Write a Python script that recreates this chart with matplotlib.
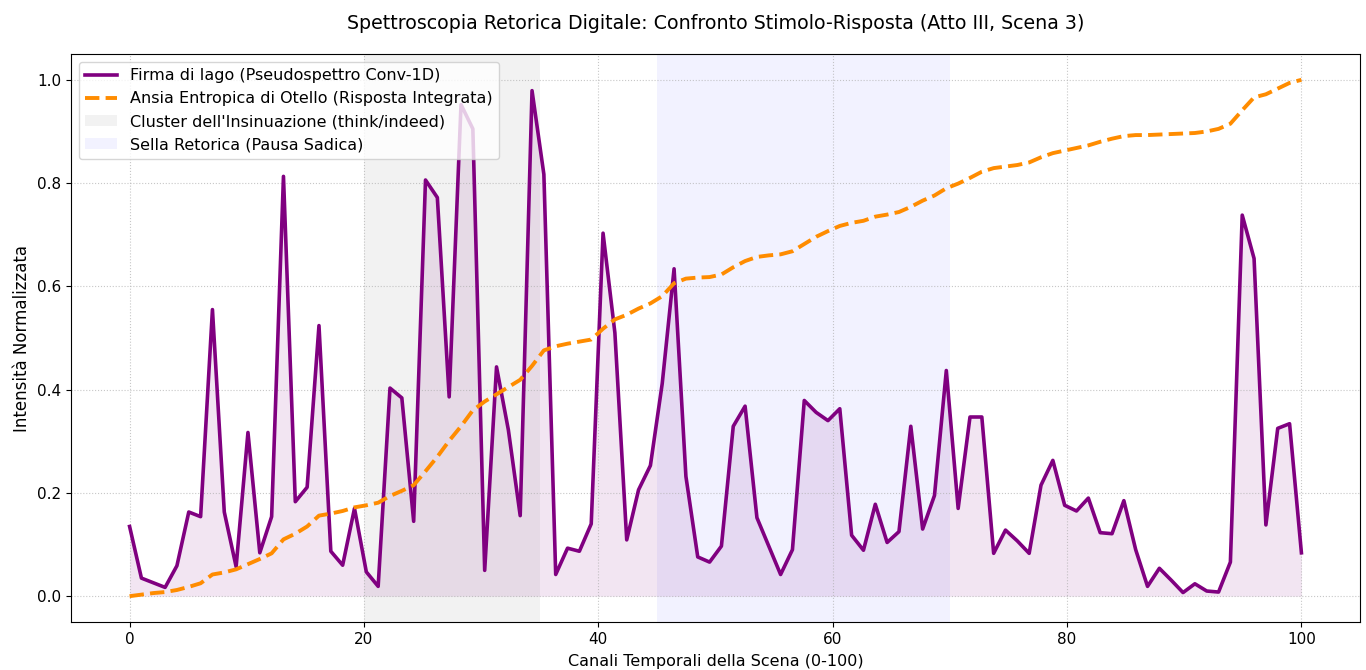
import numpy as np
import matplotlib
matplotlib.use("Agg")
import matplotlib.pyplot as plt

# Data
channels = np.linspace(0, 100, 100)

iago_signature = [
    0.135, 0.035, 0.026, 0.017, 0.059, 0.163, 0.154, 0.555, 0.163, 0.057,
    0.317, 0.084, 0.154, 0.813, 0.183, 0.211, 0.524, 0.087, 0.060, 0.170,
    0.047, 0.019, 0.403, 0.384, 0.145, 0.806, 0.772, 0.386, 0.952, 0.905,
    0.050, 0.444, 0.322, 0.156, 0.979, 0.817, 0.042, 0.093, 0.087, 0.140,
    0.703, 0.510, 0.109, 0.206, 0.253, 0.412, 0.634, 0.232, 0.076, 0.066,
    0.097, 0.329, 0.368, 0.152, 0.097, 0.042, 0.090, 0.379, 0.356, 0.340,
    0.363, 0.118, 0.089, 0.178, 0.104, 0.125, 0.329, 0.130, 0.195, 0.437,
    0.170, 0.347, 0.347, 0.083, 0.128, 0.107, 0.083, 0.215, 0.263, 0.176,
    0.165, 0.190, 0.123, 0.121, 0.185, 0.090, 0.019, 0.054, 0.031, 0.007,
    0.024, 0.010, 0.008, 0.066, 0.738, 0.654, 0.138, 0.325, 0.334, 0.084,
]

othello_anxiety = [
    0.000, 0.003, 0.006, 0.008, 0.012, 0.018, 0.025, 0.042, 0.046, 0.052,
    0.062, 0.072, 0.083, 0.110, 0.121, 0.135, 0.156, 0.160, 0.165, 0.172,
    0.176, 0.181, 0.194, 0.204, 0.215, 0.242, 0.270, 0.301, 0.329, 0.360,
    0.377, 0.391, 0.405, 0.419, 0.446, 0.476, 0.484, 0.489, 0.493, 0.497,
    0.518, 0.536, 0.545, 0.557, 0.567, 0.581, 0.606, 0.615, 0.617, 0.618,
    0.623, 0.637, 0.649, 0.657, 0.660, 0.662, 0.668, 0.682, 0.696, 0.707,
    0.717, 0.723, 0.727, 0.735, 0.739, 0.744, 0.754, 0.766, 0.776, 0.790,
    0.799, 0.810, 0.822, 0.829, 0.832, 0.835, 0.840, 0.850, 0.858, 0.863,
    0.868, 0.873, 0.880, 0.886, 0.891, 0.893, 0.893, 0.894, 0.895, 0.896,
    0.897, 0.900, 0.905, 0.915, 0.941, 0.966, 0.972, 0.983, 0.994, 1.000,
]

cluster_range = (20, 35)
saddle_range = (45, 70)

labels = {
    "iago": "Firma di Iago (Pseudospettro Conv-1D)",
    "othello": "Ansia Entropica di Otello (Risposta Integrata)",
    "cluster": "Cluster dell'Insinuazione (think/indeed)",
    "saddle": "Sella Retorica (Pausa Sadica)",
}

title = "Spettroscopia Retorica Digitale: Confronto Stimolo-Risposta (Atto III, Scena 3)"
xlabel = "Canali Temporali della Scena (0-100)"
ylabel = "Intensità Normalizzata"

fig = plt.figure(figsize=(13.66, 6.70), dpi=100)
ax = fig.add_axes([71 / 1366, 1 - 622 / 670, (1360 - 71) / 1366, (622 - 54) / 670])

ax.plot(channels, iago_signature, color="purple", linewidth=2.6, label=labels["iago"], zorder=3)
ax.fill_between(channels, iago_signature, 0, color="purple", alpha=0.1, linewidth=0)
ax.plot(channels, othello_anxiety, color="darkorange", linestyle="--", linewidth=2.8,
        label=labels["othello"], zorder=4)
ax.axvspan(*cluster_range, color="gray", alpha=0.1, linewidth=0, label=labels["cluster"])
ax.axvspan(*saddle_range, color="blue", alpha=0.05, linewidth=0, label=labels["saddle"])

ax.grid(True, linestyle=":", alpha=0.7)
ax.set_xticks([0, 20, 40, 60, 80, 100])
ax.set_title(title, fontsize=13.7, pad=18)
ax.set_xlabel(xlabel, fontsize=11.5, labelpad=5)
ax.set_ylabel(ylabel, fontsize=12)
ax.tick_params(labelsize=11)
ax.legend(loc="upper left", fontsize=11.5)

fig.savefig("out.png", dpi=100)
